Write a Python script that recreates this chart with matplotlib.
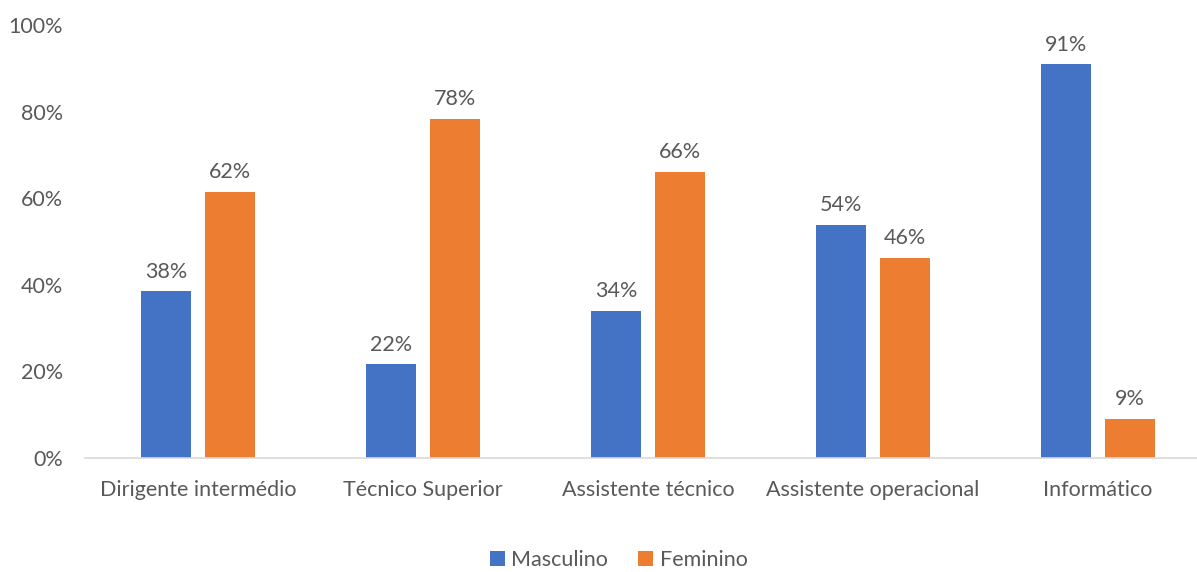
import numpy as np
import matplotlib.pyplot as plt

plt.rcParams['font.family'] = ['Lato', 'DejaVu Sans']

categorias = ["Dirigente intermédio", "Técnico Superior", "Assistente técnico",
              "Assistente operacional", "Informático"]
masculino = [38.5, 21.6, 34.0, 53.8, 90.9]
feminino = [61.5, 78.4, 66.0, 46.2, 9.1]

azul = '#4472C4'
laranja = '#ED7D31'
cinza = '#595959'

fig = plt.figure(figsize=(11.97, 5.72), dpi=100)
# o eixo estende-se para além da margem direita da figura
ax = fig.add_axes([0.0714, 0.1993, 0.9398, 0.7570])

x = np.arange(len(categorias))
largura = 0.222
desvio = 0.142

b1 = ax.bar(x - desvio, masculino, largura, color=azul, label='Masculino')
b2 = ax.bar(x + desvio, feminino, largura, color=laranja, label='Feminino')

for barras, valores in [(b1, masculino), (b2, feminino)]:
    for b, v in zip(barras, valores):
        ax.annotate(f"{round(v)}%", (b.get_x() + b.get_width() / 2, v),
                    xytext=(0, 7), textcoords='offset points',
                    ha='center', va='bottom', fontsize=15.5, color=cinza)

ax.set_xlim(-0.5, len(categorias) - 0.5)
ax.set_ylim(0, 100)
ax.set_yticks(range(0, 101, 20))
ax.set_yticklabels([f"{t}%" for t in range(0, 101, 20)])
ax.set_xticks(x)
ax.set_xticklabels(categorias)
ax.tick_params(axis='both', length=0, labelsize=15.5, labelcolor=cinza)
ax.tick_params(axis='y', pad=16)
ax.tick_params(axis='x', pad=16)

for lado in ['top', 'right', 'left']:
    ax.spines[lado].set_visible(False)
ax.spines['bottom'].set_color('#D9D9D9')
ax.spines['bottom'].set_linewidth(1.2)

leg = fig.legend(loc='lower center', bbox_to_anchor=(0.517, -0.016), ncol=2,
                 frameon=False, fontsize=15.5, handlelength=0.7, handleheight=0.7,
                 handletextpad=0.3, columnspacing=1.4, borderpad=0.0)
for t in leg.get_texts():
    t.set_color(cinza)

fig.savefig('out.png', dpi=100)
